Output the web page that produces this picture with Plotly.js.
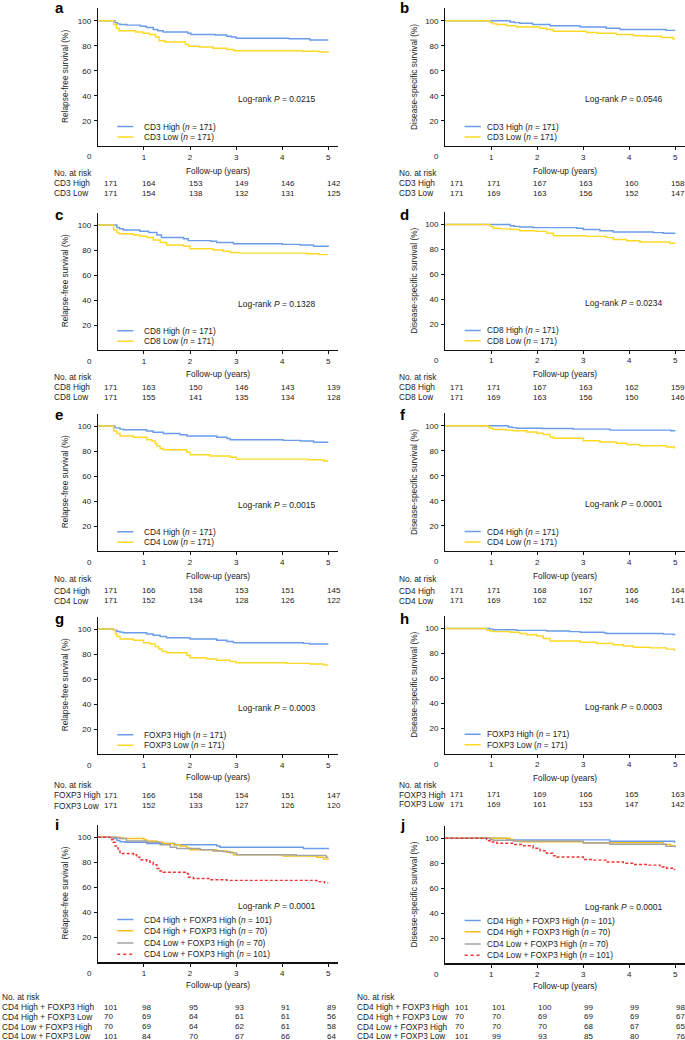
<!DOCTYPE html>
<html><head><meta charset="utf-8">
<script src="https://cdn.plot.ly/plotly-3.0.1.min.js"></script>
<style>html,body{margin:0;padding:0;background:#fff}#chart{width:685px;height:1040px}</style>
</head><body><div id="chart"></div>
<script>
// ---------- data ----------
const years = [0, 1, 2, 3, 4, 5];
const yTicks = [20, 40, 60, 80, 100];

// a: CD3, relapse-free
const aHighT = [0, 0.37, 0.42, 0.48, 0.63, 0.92, 1.05, 1.2, 1.3, 1.42, 1.95, 2.02, 2.55, 2.8, 2.9, 3.0, 4.15, 4.6, 5.0];
const aHighS = [100, 98.5, 97.5, 97, 96.5, 95.5, 94.5, 93, 92, 91, 90, 89, 88.5, 87.5, 87, 86, 85.5, 84.5, 84.5];
const aLowT = [0, 0.34, 0.4, 0.46, 0.82, 0.98, 1.12, 1.25, 1.33, 1.45, 1.9, 1.97, 2.2, 2.5, 2.8, 2.95, 4.45, 4.8, 5.0];
const aLowS = [100, 97, 94, 92, 91, 90, 89, 87, 84, 83, 81, 79.5, 79, 78, 77, 76, 75.5, 75, 74.5];
const aRiskHigh = [171, 164, 153, 149, 146, 142];
const aRiskLow = [171, 154, 138, 132, 131, 125];

// b: CD3, disease-specific
const bHighT = [0, 1.41, 1.5, 1.62, 1.9, 2.28, 2.93, 3.5, 3.8, 4.8, 5.0];
const bHighS = [100, 99, 98.5, 98, 97, 96, 95, 94, 93, 92.3, 92.3];
const bLowT = [0, 0.97, 1.04, 1.12, 1.33, 1.55, 2.06, 2.2, 2.35, 3.07, 3.3, 3.72, 4.09, 4.38, 4.7, 4.95, 5.0];
const bLowS = [100, 98.5, 97.5, 97, 96, 95, 94, 93, 91.5, 90.5, 90, 89, 88, 87.5, 86.5, 85.5, 85.5];
const bRiskHigh = [171, 171, 167, 163, 160, 158];
const bRiskLow = [171, 169, 163, 156, 152, 147];

// c: CD8, relapse-free
const cHighT = [0, 0.41, 0.47, 0.55, 0.91, 1.1, 1.28, 1.38, 1.86, 1.96, 2.45, 2.58, 2.94, 4.0, 4.39, 4.68, 5.0];
const cHighS = [100, 98, 97, 96, 95, 94, 92, 90, 89, 87.5, 87, 86, 85, 84.5, 84, 83, 82.5];
const cLowT = [0, 0.34, 0.41, 0.46, 0.77, 0.91, 1.06, 1.2, 1.35, 1.49, 1.86, 2.0, 2.5, 2.72, 2.87, 3.08, 4.53, 4.8, 5.0];
const cLowS = [100, 96, 94, 93, 92, 91, 90, 88, 86, 84, 83, 81, 80, 79, 78, 77.5, 77, 76.3, 76.3];
const cRiskHigh = [171, 163, 150, 146, 143, 139];
const cRiskLow = [171, 155, 141, 135, 134, 128];

// d: CD8, disease-specific
const dHighT = [0, 1.41, 1.5, 1.62, 1.9, 2.86, 3.0, 3.36, 3.65, 4.52, 4.74, 5.0];
const dHighS = [100, 99, 98.5, 98, 97.5, 97, 96, 95, 94, 93.5, 93, 93];
const dLowT = [0, 0.97, 1.04, 1.19, 1.41, 1.62, 1.98, 2.2, 2.35, 3.07, 3.5, 3.65, 3.94, 4.23, 4.88, 5.0];
const dLowS = [100, 98.5, 97, 96.5, 96, 95, 94.5, 93, 91, 90.5, 89.5, 88, 87, 86, 85, 85];
const dRiskHigh = [171, 171, 167, 163, 162, 159];
const dRiskLow = [171, 169, 163, 156, 150, 146];

// e: CD4, relapse-free
const eHighT = [0, 0.37, 0.48, 0.55, 1.06, 1.2, 1.42, 1.78, 1.93, 2.58, 2.8, 2.87, 4.02, 4.39, 4.68, 5.0];
const eHighS = [100, 98.5, 97.5, 97, 96, 95, 94, 93, 92, 91, 90, 89, 88.5, 88, 87, 87];
const eLowT = [0, 0.34, 0.41, 0.48, 0.77, 1.06, 1.17, 1.24, 1.28, 1.35, 1.42, 1.93, 2.0, 2.43, 2.87, 3.01, 4.55, 4.9, 5.0];
const eLowS = [100, 96, 94, 92, 91, 89, 88, 86, 84, 82, 81, 79, 77, 76, 75, 73.5, 73, 72, 72];
const eRiskHigh = [171, 166, 158, 153, 151, 145];
const eRiskLow = [171, 152, 134, 128, 126, 122];

// f: CD4, disease-specific
const fHighT = [0, 1.37, 1.45, 1.55, 2.1, 2.78, 3.58, 4.9, 5.0];
const fHighS = [100, 99, 98.5, 98, 97.8, 97.3, 96.5, 96, 96];
const fLowT = [0, 0.93, 0.97, 1.04, 1.33, 1.48, 1.77, 1.99, 2.13, 2.28, 2.35, 3.0, 3.36, 3.72, 3.94, 4.23, 4.81, 4.98, 5.0];
const fLowS = [100, 99, 98, 97, 96.5, 96, 95, 94, 93, 91, 90, 88, 87, 86, 85, 84, 83, 82.3, 82.3];
const fRiskHigh = [171, 171, 168, 167, 166, 164];
const fRiskLow = [171, 169, 162, 152, 146, 141];

// g: FOXP3, relapse-free
const gHighT = [0, 0.34, 0.41, 0.48, 0.55, 1.06, 1.2, 1.35, 1.49, 2.0, 2.58, 2.8, 2.94, 4.46, 4.6, 5.0];
const gHighS = [100, 99, 98, 97.5, 97, 96, 95, 94, 93, 92, 91, 90, 89, 88.5, 88, 88];
const gLowT = [0, 0.34, 0.38, 0.41, 0.48, 0.77, 0.99, 1.13, 1.24, 1.32, 1.39, 1.49, 1.93, 2.0, 2.36, 2.58, 2.87, 3.0, 4.1, 4.6, 4.9, 5.0];
const gLowS = [100, 99, 96, 94, 92, 91, 89, 88, 86, 84, 82, 81, 79, 77, 76, 75, 74, 73, 72.5, 72, 71.2, 71.2];
const gRiskHigh = [171, 166, 158, 154, 151, 147];
const gRiskLow = [171, 152, 133, 127, 126, 120];

// h: FOXP3, disease-specific
const hHighT = [0, 0.97, 1.04, 1.55, 2.2, 2.7, 2.93, 3.45, 3.5, 4.74, 4.95, 5.0];
const hHighS = [100, 99.5, 99, 98.5, 98, 97.5, 97, 96.5, 96, 95.5, 95.2, 95.2];
const hLowT = [0, 0.9, 0.97, 1.04, 1.41, 1.62, 1.77, 1.99, 2.13, 2.28, 2.93, 3.29, 3.65, 3.87, 4.09, 4.45, 4.81, 4.98, 5.0];
const hLowS = [100, 98.5, 98, 97.5, 97, 96, 95, 94, 92, 90, 89, 88, 87, 86, 85, 84.5, 83.5, 82.5, 82.5];
const hRiskHigh = [171, 171, 169, 166, 165, 163];
const hRiskLow = [171, 169, 161, 153, 147, 142];

// i: CD4 x FOXP3, relapse-free
const iHHT = [0, 0.34, 0.41, 0.48, 0.59, 1.06, 1.67, 2.58, 2.65, 4.46, 5.0];
const iHHS = [100, 99, 97.5, 96.5, 96, 95, 94, 93, 92, 91, 90.5];
const iHLT = [0, 0.48, 0.55, 1.0, 1.06, 1.28, 1.42, 1.64, 1.78, 1.93, 2.0, 2.58, 2.8, 2.94, 4.02, 4.75, 4.9, 5.0];
const iHLS = [100, 99.5, 99, 98, 97, 96, 95, 94, 93, 91.5, 90, 89, 88, 86, 85, 84, 82.5, 82];
const iLHT = [0, 0.41, 0.48, 0.62, 1.06, 1.35, 1.57, 1.71, 2.22, 2.5, 2.72, 2.87, 3.01, 4.3, 4.95, 5.0];
const iLHS = [100, 99.5, 99, 97, 96, 94, 92, 91, 90, 89, 88.5, 87.5, 86, 85.5, 84, 84];
const iLLT = [0, 0.26, 0.3, 0.33, 0.37, 0.44, 0.48, 0.77, 0.84, 0.91, 1.06, 1.13, 1.2, 1.28, 1.35, 1.42, 1.92, 1.96, 2.07, 2.43, 2.8, 4.75, 4.92, 5.0];
const iLLS = [100, 99, 98, 96, 93, 89, 87, 86, 84, 82, 81, 80, 78, 75, 73, 72, 71, 68, 67, 66, 65.5, 64.5, 63.5, 63.5];
const iRiskHH = [101, 98, 95, 93, 91, 89];
const iRiskHL = [70, 69, 64, 61, 61, 56];
const iRiskLH = [70, 69, 64, 62, 61, 58];
const iRiskLL = [101, 84, 70, 67, 66, 64];

// j: CD4 x FOXP3, disease-specific
const jHHT = [0, 1.33, 1.41, 3.58, 4.98, 5.0];
const jHHS = [100, 99.5, 98.7, 97.6, 97, 97];
const jHLT = [0, 1.41, 1.48, 1.62, 3.0, 4.74, 4.9, 5.0];
const jHLS = [100, 99, 98, 97.2, 96.5, 95, 94, 94];
const jLHT = [0, 0.97, 1.04, 1.48, 3.0, 3.58, 4.8, 5.0];
const jLHS = [100, 99, 98.4, 97.8, 96.3, 95.2, 93.5, 92.8];
const jLLT = [0, 0.9, 0.94, 0.99, 1.12, 1.48, 1.7, 1.91, 2.06, 2.2, 2.35, 2.42, 3.0, 3.2, 3.5, 3.87, 4.09, 4.4, 4.67, 4.81, 4.98, 5.0];
const jLLS = [100, 99, 98, 97, 96, 95, 94, 92, 90, 88, 86, 85, 83, 82.5, 81, 80, 79, 78.5, 77, 76, 75, 75];
const jRiskHH = [101, 101, 100, 99, 99, 98];
const jRiskHL = [70, 70, 69, 69, 69, 67];
const jRiskLH = [70, 70, 70, 68, 67, 65];
const jRiskLL = [101, 99, 93, 85, 80, 76];

const pValues = ['0.0215', '0.0546', '0.1328', '0.0234', '0.0015', '0.0001', '0.0003', '0.0003', '0.0001', '0.0001'];

// ---------- styling / layout ----------
const W = 685, H = 1040;
const FONT = '"Liberation Sans", Arial, Helvetica, sans-serif';
const BLUE = '#6b9be9', YEL = '#fcd924', ORG = '#f7c01e', GREY = '#a3a3a3', RED = '#ee3535';
const RFS = 'Relapse-free survival (%)', DSS = 'Disease-specific survival (%)';

const cols = [
  {x0: 97.9, yr: 46.08, labelX: 52, letterX: 53, yTitleX: 65, legTextX: 0.95, c0: 4, cN: -3.5},
  {x0: 445.3, yr: 46.0, labelX: 397.3, letterX: 397.5, yTitleX: 414, legTextX: 0.86, c0: 2.5, cN: -6}
];

function two(tH, sH, tL, sL, name, rH, rL) {
  return {
    curves: [
      {t: tH, s: sH, color: BLUE, dash: 'solid', label: name + ' High (<i>n</i> = 171)'},
      {t: tL, s: sL, color: YEL, dash: 'solid', label: name + ' Low (<i>n</i> = 171)'}
    ],
    rowLabels: [name + ' High', name + ' Low'], risk: [rH, rL], legY: [15.3, 7]
  };
}
function four(t1, s1, t2, s2, t3, s3, t4, s4, r1, r2, r3, r4) {
  return {
    curves: [
      {t: t1, s: s1, color: BLUE, dash: 'solid', label: 'CD4 High + FOXP3 High (<i>n</i> = 101)'},
      {t: t2, s: s2, color: ORG, dash: 'solid', label: 'CD4 High + FOXP3 High (<i>n</i> = 70)'},
      {t: t3, s: s3, color: GREY, dash: 'solid', label: 'CD4 Low + FOXP3 High (<i>n</i> = 70)'},
      {t: t4, s: s4, color: RED, dash: '3px,2px', label: 'CD4 Low + FOXP3 High (<i>n</i> = 101)'}
    ],
    rowLabels: ['CD4 High + FOXP3 High', 'CD4 High + FOXP3 Low', 'CD4 Low + FOXP3 High', 'CD4 Low + FOXP3 Low'],
    risk: [r1, r2, r3, r4], legY: [34.2, 25.3, 15.5, 6.4]
  };
}

const panels = [
  Object.assign({L: 'a', col: 0, B: 145.7, base: 12.7, xt: 170.7, hdr: 172.7, rows: [183, 193], yt: RFS, pY: 37.2}, two(aHighT, aHighS, aLowT, aLowS, 'CD3', aRiskHigh, aRiskLow)),
  Object.assign({L: 'b', col: 1, B: 145.7, base: 12.7, xt: 170.7, hdr: 172.7, rows: [183, 193], yt: DSS, pY: 37.2}, two(bHighT, bHighS, bLowT, bLowS, 'CD3', bRiskHigh, bRiskLow)),
  Object.assign({L: 'c', col: 0, B: 350, base: 220, xt: 374.3, hdr: 377, rows: [387.3, 397], yt: RFS, pY: 37.2}, two(cHighT, cHighS, cLowT, cLowS, 'CD8', cRiskHigh, cRiskLow)),
  Object.assign({L: 'd', col: 1, B: 349.5, base: 220, xt: 374.3, hdr: 377, rows: [387.3, 397], yt: DSS, pY: 37.2}, two(dHighT, dHighS, dLowT, dLowS, 'CD8', dRiskHigh, dRiskLow)),
  Object.assign({L: 'e', col: 0, B: 551, base: 420, xt: 576, hdr: 579, rows: [590.7, 600.7], yt: RFS, pY: 37.2}, two(eHighT, eHighS, eLowT, eLowS, 'CD4', eRiskHigh, eRiskLow)),
  Object.assign({L: 'f', col: 1, B: 550.7, base: 420, xt: 576, hdr: 579.3, rows: [590.7, 600.7], yt: DSS, pY: 37.2}, two(fHighT, fHighS, fLowT, fLowS, 'CD4', fRiskHigh, fRiskLow)),
  Object.assign({L: 'g', col: 0, B: 754, base: 624, xt: 777.3, hdr: 784.7, rows: [795.3, 805.7], yt: RFS, pY: 37.2}, two(gHighT, gHighS, gLowT, gLowS, 'FOXP3', gRiskHigh, gRiskLow)),
  Object.assign({L: 'h', col: 1, B: 753.5, base: 623.3, xt: 777.7, hdr: 784.7, rows: [794.7, 804.3], yt: DSS, pY: 37.2}, two(hHighT, hHighS, hLowT, hLowS, 'FOXP3', hRiskHigh, hRiskLow)),
  Object.assign({L: 'i', col: 0, B: 962.3, base: 830, xt: 984.7, hdr: 997.3, rows: [1007, 1016.7, 1026.7, 1036], yt: RFS, pY: 45, labelX: 0}, four(iHHT, iHHS, iHLT, iHLS, iLHT, iLHS, iLLT, iLLS, iRiskHH, iRiskHL, iRiskLH, iRiskLL)),
  Object.assign({L: 'j', col: 1, B: 963.3, base: 830, xt: 986, hdr: 996.7, rows: [1007, 1016.7, 1026.7, 1036], yt: DSS, pY: 45, labelX: 355, c0: 8, cN: -1}, four(jHHT, jHHS, jHLT, jHLS, jLHT, jLHS, jLLT, jLLS, jRiskHH, jRiskHL, jRiskLH, jRiskLL))
];

const traces = [], annotations = [], shapes = [];
const layout = {
  width: W, height: H, margin: {l: 0, r: 0, t: 0, b: 0},
  paper_bgcolor: '#fff', plot_bgcolor: 'rgba(0,0,0,0)', showlegend: false,
  font: {family: FONT, size: 8.3, color: '#1a1a1a'}
};
const px = x => x / W, py = y => 1 - y / H;
const TXT = {family: FONT, size: 8.3, color: '#1a1a1a'};
const NUM = {family: FONT, size: 8, color: '#1a1a1a'};

panels.forEach((p, idx) => {
  const k = idx + 1, sx = k === 1 ? '' : String(k);
  const xa = 'x' + sx, ya = 'y' + sx;
  const c = cols[p.col];
  const labelX = p.labelX !== undefined ? p.labelX : c.labelX;
  const c0 = p.c0 !== undefined ? p.c0 : c.c0, cN = p.cN !== undefined ? p.cN : c.cN;
  const top = p.B - 137.5;
  const axisCommon = {
    showline: true, linecolor: '#111', linewidth: 1.2, ticks: 'outside', ticklen: 3, tickwidth: 1,
    tickcolor: '#111', showgrid: false, zeroline: false, fixedrange: true,
    tickfont: {family: FONT, size: 8, color: '#1a1a1a'}
  };
  layout['xaxis' + sx] = Object.assign({}, axisCommon, {
    domain: [px(c.x0), px(c.x0 + 5.2 * c.yr)], range: [0, 5.2],
    tickvals: years.slice(1), anchor: ya
  });
  layout['yaxis' + sx] = Object.assign({}, axisCommon, {
    domain: [py(p.B), py(top)], range: [0, 110], tickvals: yTicks, anchor: xa,
    ticklabelstandoff: 1
  });

  p.curves.forEach((cv, ci) => {
    traces.push({
      type: 'scatter', mode: 'lines', x: cv.t, y: cv.s, xaxis: xa, yaxis: ya,
      line: {shape: 'hv', color: cv.color, width: 1.4, dash: cv.dash}, hoverinfo: 'skip'
    });
    // legend key + label
    shapes.push({type: 'line', xref: xa, yref: ya, x0: 0.42, x1: 0.77, y0: p.legY[ci], y1: p.legY[ci],
      line: {color: cv.color, width: 1.5, dash: cv.dash === 'solid' ? 'solid' : 'dot'}});
    annotations.push({text: cv.label, xref: xa, yref: ya, x: c.legTextX, y: p.legY[ci],
      xanchor: 'left', yanchor: 'middle', showarrow: false, font: TXT});
  });

  // panel letter
  annotations.push({text: '<b>' + p.L + '</b>', xref: 'paper', yref: 'paper', x: px(c.letterX), y: py(p.base - 5.3),
    xanchor: 'left', yanchor: 'middle', showarrow: false, font: {family: FONT, size: 15, color: '#000'}});
  // log-rank
  annotations.push({text: 'Log-rank <i>P</i> = ' + pValues[idx], xref: xa, yref: ya, x: 3.0, y: p.pY,
    xanchor: 'left', yanchor: 'middle', showarrow: false, font: {family: FONT, size: 8.5, color: '#1a1a1a'}});
  // y title
  annotations.push({text: p.yt, xref: 'paper', yref: 'paper', x: px(c.yTitleX), y: py((p.B + top) / 2),
    xanchor: 'center', yanchor: 'middle', textangle: -90, showarrow: false, font: TXT});
  // x title
  annotations.push({text: 'Follow-up (years)', xref: xa, yref: 'paper', x: 2.6, y: py(p.xt),
    xanchor: 'center', yanchor: 'middle', showarrow: false, font: TXT});
  // origin "0"
  annotations.push({text: '0', xref: xa, yref: 'paper', x: 0, xshift: -8.6, y: py(p.B + 11),
    xanchor: 'center', yanchor: 'middle', showarrow: false, font: {family: FONT, size: 8, color: '#1a1a1a'}});
  // number at risk table
  annotations.push({text: 'No. at risk', xref: 'paper', yref: 'paper', x: px(labelX), y: py(p.hdr),
    xanchor: 'left', yanchor: 'middle', showarrow: false, font: TXT});
  p.rowLabels.forEach((lab, ri) => {
    annotations.push({text: lab, xref: 'paper', yref: 'paper', x: px(labelX), y: py(p.rows[ri]),
      xanchor: 'left', yanchor: 'middle', showarrow: false, font: TXT});
    p.risk[ri].forEach((v, j) => {
      annotations.push({text: String(v), xref: xa, yref: 'paper', x: years[j], xshift: j === 0 ? c0 : cN,
        y: py(p.rows[ri]), xanchor: 'left', yanchor: 'middle', showarrow: false, font: NUM});
    });
  });
});

layout.annotations = annotations;
layout.shapes = shapes;
Plotly.newPlot('chart', traces, layout, {staticPlot: true, displayModeBar: false});
</script>
</body></html>
